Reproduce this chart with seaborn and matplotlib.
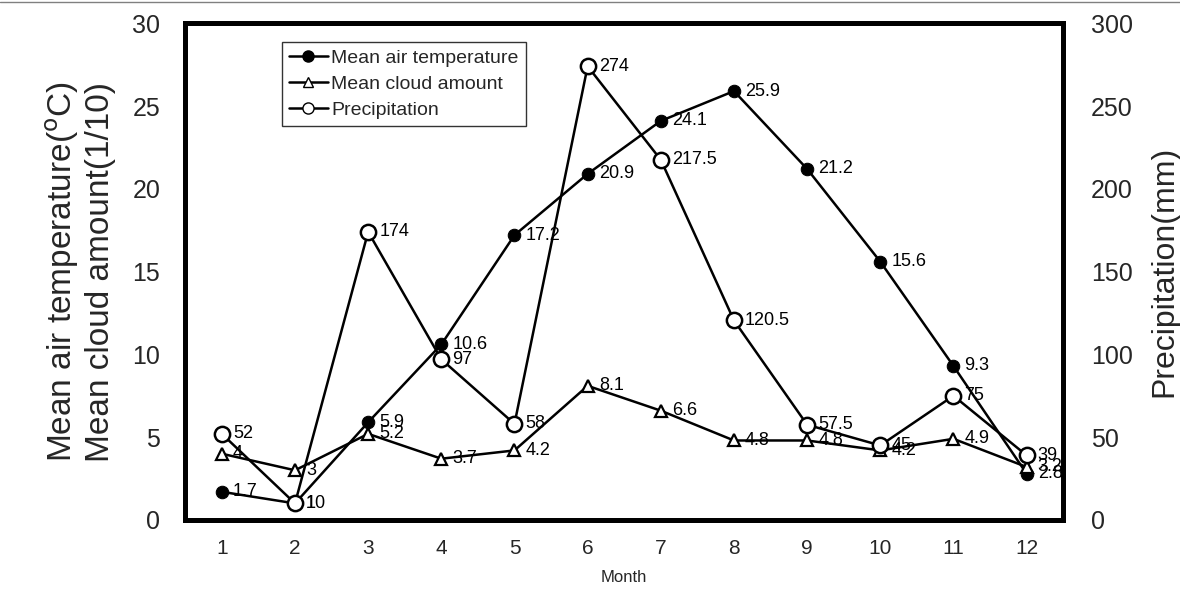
import matplotlib
matplotlib.use("Agg")
import matplotlib.pyplot as plt
import seaborn as sns
from matplotlib.lines import Line2D

# --- data ---
months = [1, 2, 3, 4, 5, 6, 7, 8, 9, 10, 11, 12]
temperature = [1.7, 1.0, 5.9, 10.6, 17.2, 20.9, 24.1, 25.9, 21.2, 15.6, 9.3, 2.8]
temperature_labels = ["1.7", "1", "5.9", "10.6", "17.2", "20.9", "24.1", "25.9", "21.2", "15.6", "9.3", "2.8"]
cloud = [4.0, 3.0, 5.2, 3.7, 4.2, 8.1, 6.6, 4.8, 4.8, 4.2, 4.9, 3.2]
cloud_labels = ["4", "3", "5.2", "3.7", "4.2", "8.1", "6.6", "4.8", "4.8", "4.2", "4.9", "3.2"]
precipitation = [52, 10, 174, 97, 58, 274, 217.5, 120.5, 57.5, 45, 75, 39]
precip_labels = ["52", "10", "174", "97", "58", "274", "217.5", "120.5", "57.5", "45", "75", "39"]

sns.set_style("white")
plt.rcParams["font.family"] = ["Liberation Sans", "DejaVu Sans"]

fig = plt.figure(figsize=(11.8, 6.11), dpi=100)
ax = fig.add_axes([0.157, 0.149, 0.744, 0.813])
ax2 = ax.twinx()

lw = 1.8
sns.lineplot(x=months, y=temperature, ax=ax, color="black", lw=lw, marker="o",
             markersize=9, markerfacecolor="black", markeredgecolor="black", legend=False)
sns.lineplot(x=months, y=cloud, ax=ax, color="black", lw=lw, marker="^",
             markersize=8, markerfacecolor="white", markeredgecolor="black",
             markeredgewidth=1.6, legend=False)
sns.lineplot(x=months, y=precipitation, ax=ax2, color="black", lw=lw, marker="o",
             markersize=11, markerfacecolor="white", markeredgecolor="black",
             markeredgewidth=1.8, legend=False)

# point labels
lab_kw = dict(textcoords="offset points", xytext=(8, 0), va="center", ha="left",
              fontsize=13, color="black")
for m, v, t in zip(months, temperature, temperature_labels):
    ax.annotate(t, (m, v), **lab_kw)
for m, v, t in zip(months, cloud, cloud_labels):
    ax.annotate(t, (m, v), **lab_kw)
for m, v, t in zip(months, precipitation, precip_labels):
    ax2.annotate(t, (m, v), **lab_kw)

ax.set_xlim(0.5, 12.5)
ax.set_ylim(0, 30)
ax2.set_ylim(0, 300)
ax.set_xticks(months)
ax.set_xticks([m + 0.5 for m in months[:-1]], minor=True)
ax.set_yticks(range(0, 31, 5))
ax2.set_yticks(range(0, 301, 50))

ax.tick_params(axis="x", which="major", length=0, labelsize=15, pad=14)
ax.tick_params(axis="x", which="minor", length=6, width=1.2, direction="in")
ax.tick_params(axis="y", length=0, labelsize=18, pad=18)
ax2.tick_params(axis="y", length=0, labelsize=18, pad=20)

for a in (ax, ax2):
    for s in a.spines.values():
        s.set_linewidth(3.5)
        s.set_color("black")

ax.set_xlabel("Month", fontsize=12, labelpad=8)
ax.set_ylabel("Mean air temperature($^{\\rm o}$C)\nMean cloud amount(1/10)", fontsize=24,
              labelpad=12, linespacing=1.15)
ax2.set_ylabel("Precipitation(mm)", fontsize=23, labelpad=12)

handles = [
    Line2D([], [], color="black", lw=1.8, marker="o", markersize=8,
           markerfacecolor="black", markeredgecolor="black"),
    Line2D([], [], color="black", lw=1.8, marker="^", markersize=7,
           markerfacecolor="white", markeredgecolor="black"),
    Line2D([], [], color="black", lw=1.8, marker="o", markersize=8,
           markerfacecolor="white", markeredgecolor="black"),
]
leg = ax2.legend(handles, ["Mean air temperature", "Mean cloud amount", "Precipitation"],
                 loc="upper left", bbox_to_anchor=(0.11, 0.962), fontsize=14,
                 frameon=True, fancybox=False, handlelength=2.0, handletextpad=0.2,
                 borderpad=0.35, labelspacing=0.45, borderaxespad=0)
leg.get_frame().set_edgecolor("black")
leg.get_frame().set_linewidth(1.0)

fig.add_artist(Line2D([0, 1], [0.997, 0.997], color="gray", lw=1, transform=fig.transFigure))

fig.savefig("out.png", dpi=100)
